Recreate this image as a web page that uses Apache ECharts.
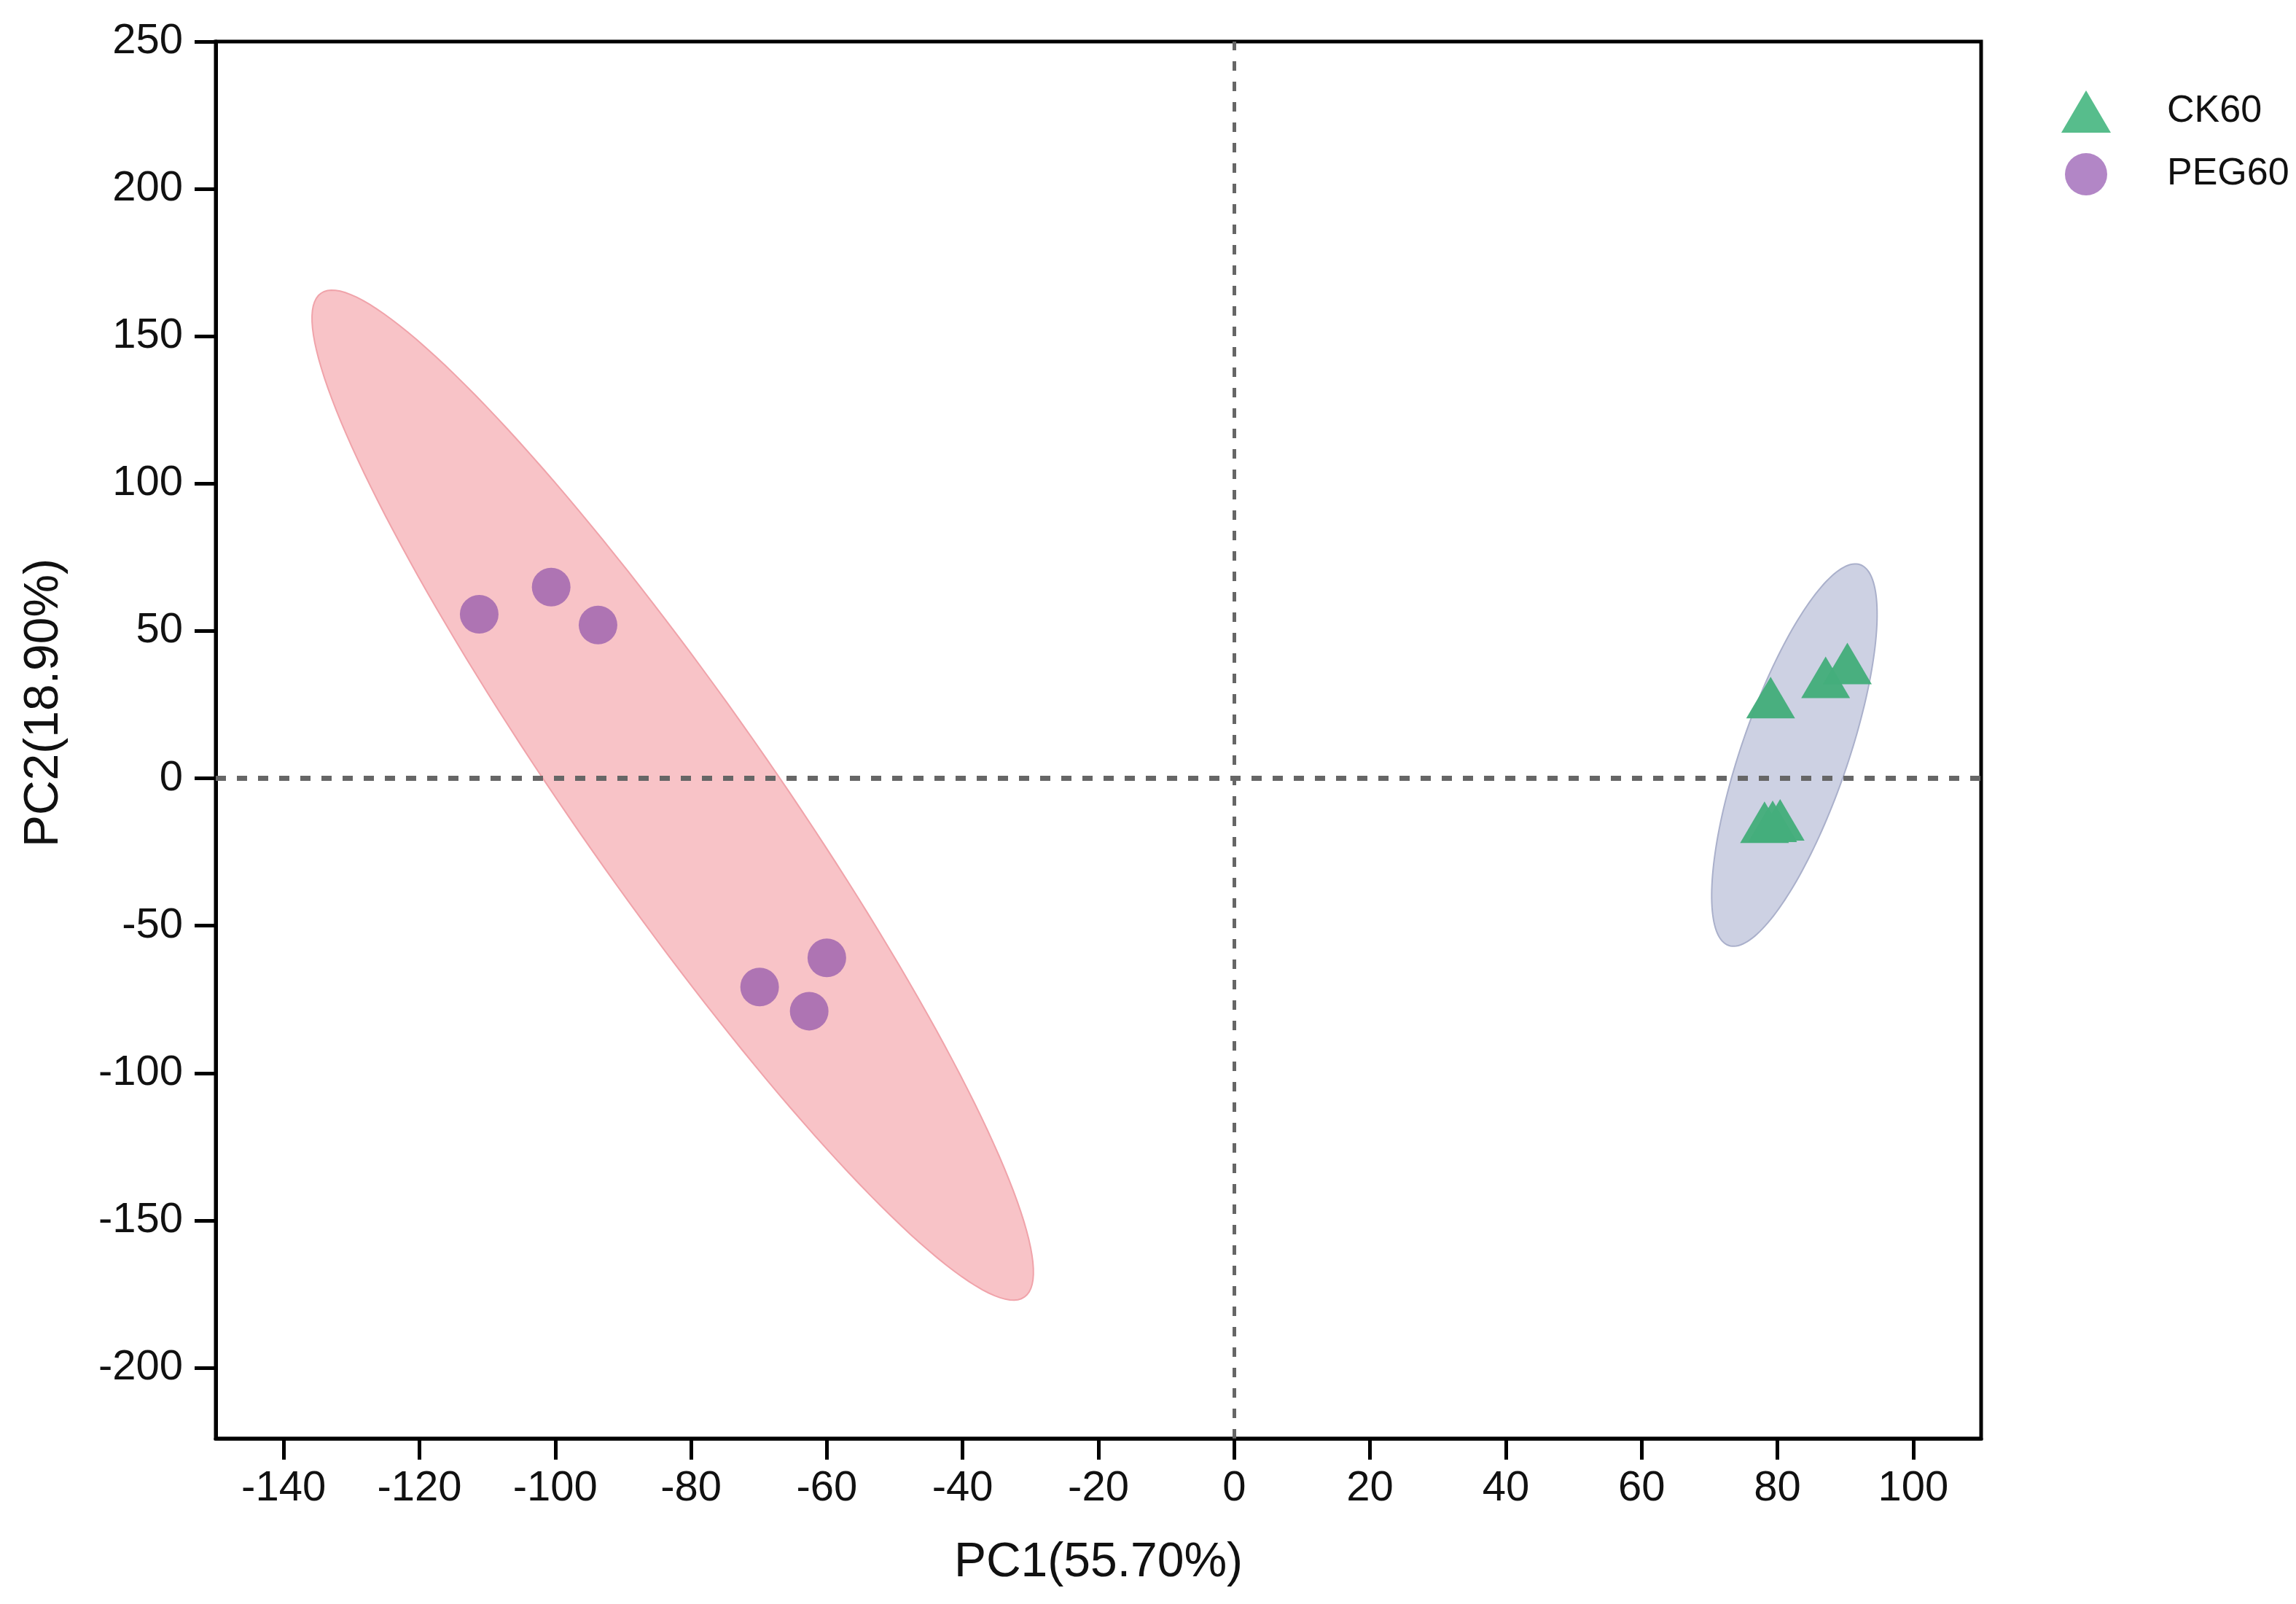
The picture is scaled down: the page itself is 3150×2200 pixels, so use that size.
<!DOCTYPE html>
<html>
<head>
<meta charset="utf-8">
<script src="https://cdn.jsdelivr.net/npm/echarts@6/dist/echarts.min.js"></script>
<style>
html,body{margin:0;padding:0;background:#fff;}
#chart{width:3150px;height:2200px;}
</style>
</head>
<body>
<div id="chart"></div>
<script>
// ---- data ----
const seriesNames = ['CK60', 'PEG60'];
const ck60X = [79.0, 87.1, 90.3, 78.1, 80.4, 79.3];
const ck60Y = [27.4, 34.3, 39.0, -14.9, -14.1, -14.6];
const peg60X = [-111.2, -100.6, -93.7, -69.9, -60.0, -62.6];
const peg60Y = [55.7, 64.9, 52.0, -70.8, -60.9, -79.0];

// confidence ellipses (data units): centre, semi-major vector, semi-minor vector
const ellipseGroup = ['PEG60', 'CK60'];
const ellipseCX = [-82.7, 82.5];
const ellipseCY = [-5.7, 7.9];
const ellipseMajX = [51.8, 9.68];
const ellipseMajY = [-170.3, 64.6];
const ellipseMinX = [-11.8, 7.4];
const ellipseMinY = [-19.0, -5.9];

const xTicks = [-140, -120, -100, -80, -60, -40, -20, 0, 20, 40, 60, 80, 100];
const yTicks = [-200, -150, -100, -50, 0, 50, 100, 150, 200, 250];
const xTitle = 'PC1(55.70%)';
const yTitle = 'PC2(18.90%)';

// ---- build ----
const FONT = '"Liberation Sans", Arial, sans-serif';
const ellipseFill = {PEG60: '#f8c3c7', CK60: '#cdd1e3'};
const ellipseStroke = {PEG60: '#f0a3aa', CK60: '#aab0cb'};

const ellipseData = ellipseGroup.map((g, i) => [ellipseCX[i], ellipseCY[i], ellipseMajX[i], ellipseMajY[i], ellipseMinX[i], ellipseMinY[i], i]);
const ckData = ck60X.map((x, i) => [x, ck60Y[i]]);
const pegData = peg60X.map((x, i) => [x, peg60Y[i]]);

const chart = echarts.init(document.getElementById('chart'), null, {renderer: 'canvas'});

const axisCommon = {
  splitLine: {show: false},
  axisLine: {show: true, onZero: false, lineStyle: {color: '#000', width: 5}},
  axisTick: {show: true, length: 29, lineStyle: {color: '#000', width: 5}},
};

chart.setOption({
  animation: false,
  backgroundColor: '#fff',
  grid: {left: 296, right: 432, top: 57, bottom: 227, show: true, borderColor: '#000', borderWidth: 5, backgroundColor: 'transparent'},
  legend: {
    orient: 'vertical',
    left: 2823,
    top: 119,
    itemWidth: 68,
    itemHeight: 58,
    itemGap: 28,
    textStyle: {fontFamily: FONT, fontSize: 52, color: '#111', padding: [0, 0, 0, 72]},
    data: [
      {name: seriesNames[0], icon: 'triangle', itemStyle: {color: '#52bb88'}},
      {name: seriesNames[1], icon: 'circle', itemStyle: {color: '#9f68b8'}}
    ]
  },
  xAxis: Object.assign({}, axisCommon, {
    type: 'value', min: -150, max: 110,
    axisTick: Object.assign({}, axisCommon.axisTick, {customValues: xTicks}),
    axisLabel: {customValues: xTicks, margin: 40, fontFamily: FONT, fontSize: 58, color: '#111'},
    name: xTitle, nameLocation: 'middle', nameGap: 138,
    nameTextStyle: {fontFamily: FONT, fontSize: 66, color: '#111'}
  }),
  yAxis: Object.assign({}, axisCommon, {
    type: 'value', min: -224, max: 250,
    axisTick: Object.assign({}, axisCommon.axisTick, {customValues: yTicks}),
    axisLabel: {customValues: yTicks, margin: 45, fontFamily: FONT, fontSize: 58, color: '#111'},
    name: yTitle, nameLocation: 'middle', nameGap: 202,
    nameTextStyle: {fontFamily: FONT, fontSize: 66, color: '#111', padding: [0, 0, 0, 102]}
  }),
  series: [
    {
      type: 'custom',
      name: 'ellipse',
      z: 1,
      silent: true,
      data: ellipseData,
      encode: {x: 0, y: 1},
      renderItem: function (params, api) {
        const cx = api.value(0), cy = api.value(1);
        const ax = api.value(2), ay = api.value(3);
        const bx = api.value(4), by = api.value(5);
        const g = ellipseGroup[api.value(6)];
        const pts = [];
        const N = 180;
        for (let k = 0; k < N; k++) {
          const t = 2 * Math.PI * k / N;
          const c = Math.cos(t), s = Math.sin(t);
          pts.push(api.coord([cx + c * ax + s * bx, cy + c * ay + s * by]));
        }
        return {
          type: 'polygon',
          shape: {points: pts},
          style: {fill: ellipseFill[g], stroke: ellipseStroke[g], lineWidth: 2}
        };
      }
    },
    {
      type: 'line',
      name: 'zero',
      data: [],
      z: 2,
      silent: true,
      markLine: {
        silent: true,
        symbol: 'none',
        label: {show: false},
        animation: false,
        data: [
          {xAxis: 0, lineStyle: {color: '#666', width: 5, type: [13, 15]}},
          {yAxis: 0, lineStyle: {color: '#666', width: 7, type: [14, 15]}}
        ]
      }
    },
    {
      type: 'scatter',
      name: seriesNames[0],
      z: 3,
      symbol: 'triangle',
      symbolSize: [67, 57],
      itemStyle: {color: '#44ad7c', opacity: 0.97},
      data: ckData
    },
    {
      type: 'scatter',
      name: seriesNames[1],
      z: 3,
      symbol: 'circle',
      symbolSize: 53,
      itemStyle: {color: '#9b60ae'},
      data: pegData
    }
  ]
});
</script>
</body>
</html>
